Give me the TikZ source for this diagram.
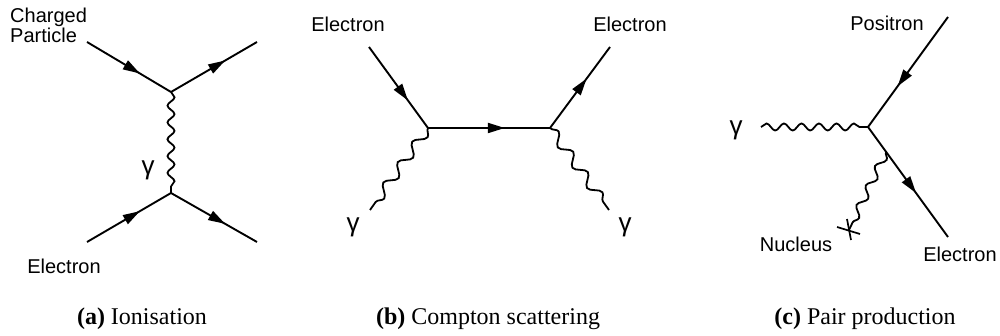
\documentclass[tikz,border=0pt]{standalone}
\usepackage{fontspec}
\setmainfont{Liberation Serif}
\newfontfamily\lblfont{Liberation Sans}
\usetikzlibrary{arrows.meta,decorations.markings,decorations.pathmorphing}
\tikzset{
  fermion/.style={line width=1.9pt, postaction={decorate},
    decoration={markings, mark=at position #1 with {\arrow{Triangle[length=17pt,width=10pt]}}}},
  fermion/.default=0.63,
  plain/.style={line width=1.7pt},
  photon/.style 2 args={line width=1.8pt, decorate,
    decoration={snake, amplitude=#1, segment length=#2}},
  lbl/.style={font=\lblfont\fontsize{20}{20.5}\selectfont, inner sep=0pt},
  gam/.style={font=\lblfont\fontsize{26}{27}\selectfont, inner sep=0pt, anchor=center},
  captxt/.style={font=\fontsize{24}{26}\selectfont, inner sep=0pt, anchor=base},
}
\begin{document}
\begin{tikzpicture}[x=1pt,y=-1pt]
\useasboundingbox (0,0) rectangle (1000,336);

% ---------- (a) Ionisation ----------
\coordinate (a1) at (87,42);
\coordinate (av1) at (171,92);
\coordinate (a2) at (257,42);
\coordinate (av2) at (171,193);
\coordinate (a3) at (87,242);
\coordinate (a4) at (257,242);
\draw[fermion] (a1) -- (av1);
\draw[fermion] (av1) -- (a2);
\draw[fermion] (a3) -- (av2);
\draw[fermion] (av2) -- (a4);
\draw[photon={3.5pt}{16.8pt}] (av1) -- (av2);
\node[lbl, anchor=base west, align=left] (lcp) at (10,43) {Charged\\Particle};
\node[lbl, anchor=base] (lea) at (64,273) {Electron};
\node[gam] (lga) at (148,170) {γ};
\node[captxt] (capa) at (142,324) {\textbf{(a)} Ionisation};

% ---------- (b) Compton scattering ----------
\coordinate (b1) at (369,47);
\coordinate (bv1) at (428,128);
\coordinate (bv2) at (550,128);
\coordinate (b2) at (610,47);
\coordinate (bg1) at (370,210);
\coordinate (bg2) at (609,210);
\draw[fermion=0.66] (b1) -- (bv1);
\draw[fermion=0.63] (bv1) -- (bv2);
\draw[fermion=0.61] (bv2) -- (b2);
\draw[photon={5pt}{25pt}] (bv1) -- (bg1);
\draw[photon={5pt}{25pt}] (bv2) -- (bg2);
\node[lbl, anchor=base] (leb1) at (348,32) {Electron};
\node[lbl, anchor=base] (leb2) at (630,32) {Electron};
\node[gam] (lgb1) at (353,227) {γ};
\node[gam] (lgb2) at (625,227) {γ};
\node[captxt] (capb) at (488,324) {\textbf{(b)} Compton scattering};

% ---------- (c) Pair production ----------
\coordinate (c1) at (948,17);
\coordinate (cv) at (868,127);
\coordinate (c2) at (948,237);
\coordinate (cg) at (761,127);
\coordinate (cn) at (886,152);
\coordinate (nuc) at (849,230);
\draw[fermion=0.63] (c1) -- (cv);
\draw[fermion=0.6] (cv) -- (c2);
\draw[photon={3.5pt}{17.5pt}] (cg) -- (cv);
\draw[photon={4pt}{21.5pt}] (cn) -- (nuc);
\draw[plain] ([shift={(-12,-3)}]nuc) -- ([shift={(11,4)}]nuc);
\draw[plain] ([shift={(-2,-11)}]nuc) -- ([shift={(2,10)}]nuc);
\node[lbl, anchor=base] (lpos) at (887,31) {Positron};
\node[gam] (lgc) at (736,130) {γ};
\node[lbl, anchor=base] (lnuc) at (796,252) {Nucleus};
\node[lbl, anchor=base] (lec) at (960,262) {Electron};
\node[captxt] (capc) at (865,324) {\textbf{(c)} Pair production};
\end{tikzpicture}
\end{document}
